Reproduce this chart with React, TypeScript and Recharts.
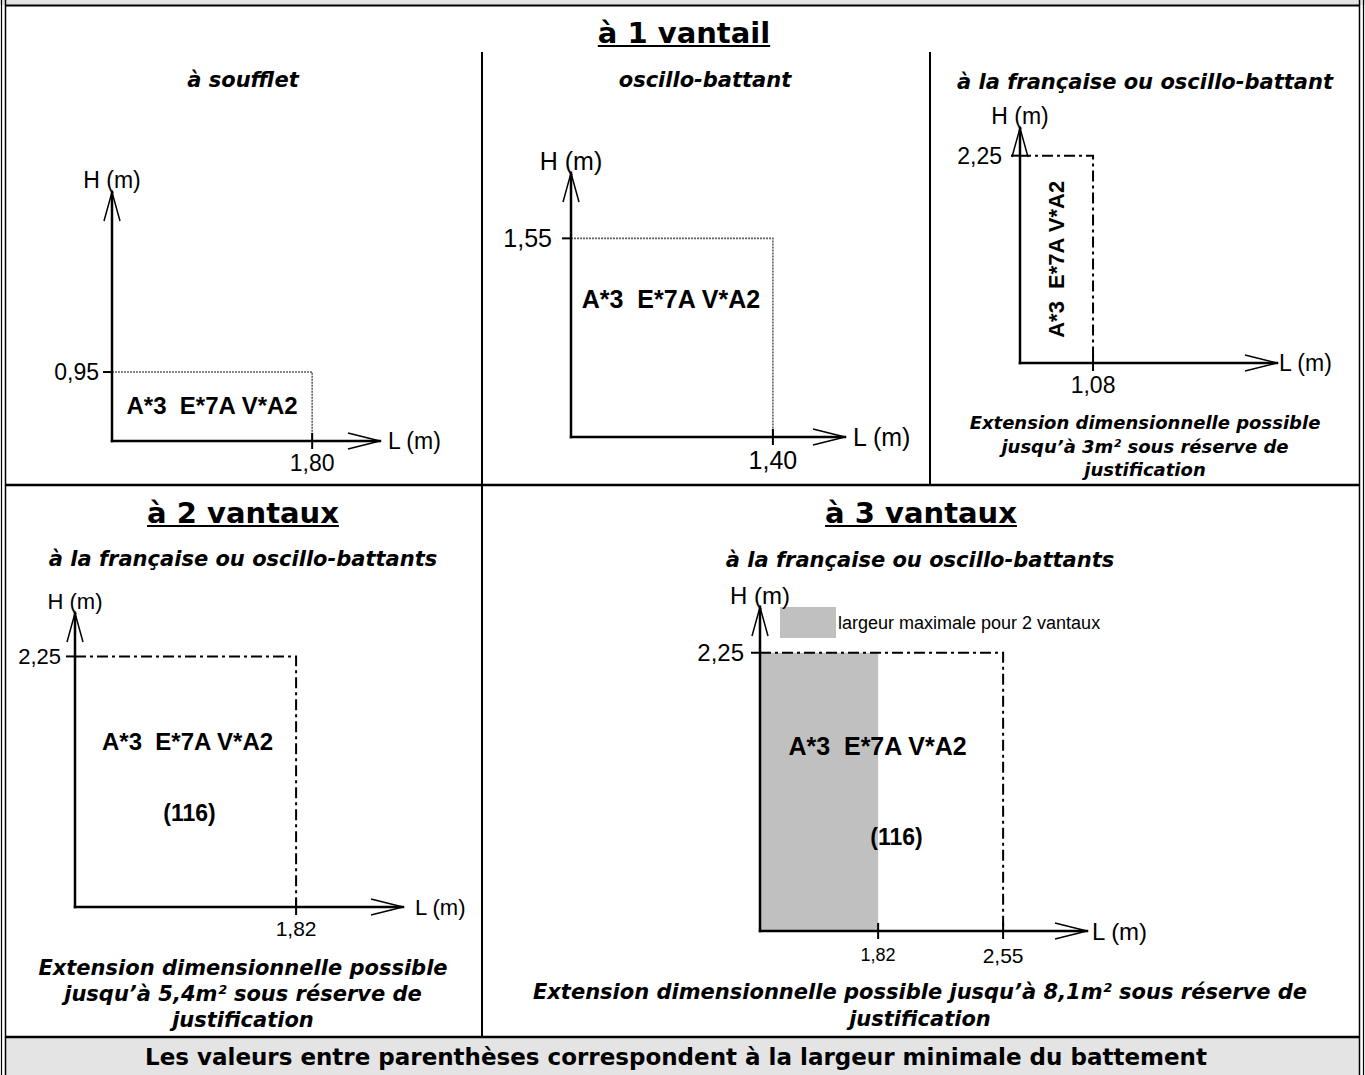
import React from "react";
import { ComposedChart, XAxis, YAxis, ReferenceArea, ReferenceLine } from "recharts";

// One entry per panel: top row (1 vantail x3), then 2 vantaux, 3 vantaux
const panelTypes = [
  "à soufflet",
  "oscillo-battant",
  "à la française ou oscillo-battant",
  "à la française ou oscillo-battants",
  "à la française ou oscillo-battants",
];
const maxWidthL = [1.8, 1.4, 1.08, 1.82, 2.55];
const maxHeightH = [0.95, 1.55, 2.25, 2.25, 2.25];
// axis extents as drawn (arrow tips); the 3-leaf L axis does not start at 0
const axisStartL = [0, 0, 0, 0, 1.13];
const axisEndL = [2.41, 1.9, 3.8, 2.7, 3.04];
const axisEndH = [3.43, 2.06, 2.55, 2.64, 2.62];
const twoLeafWidthL = [null, null, null, null, 1.82];
const classification = "A*3  E*7A V*A2";
const battement = [null, null, null, "(116)", "(116)"];
const extensionArea = [null, null, "3m²", "5,4m²", "8,1m²"];

const ARIAL = "'Liberation Sans', Arial, sans-serif";
const VERDANA = "'DejaVu Sans', Verdana, sans-serif";
const frFmt = (v: number) => v.toFixed(2).replace(".", ",");

// pixel placement / styling of each panel
const geo = [
  { ox: 112, oy: 441, w: 268, h: 249, dashDot: false, axisFont: 23, tickFont: 23, lGap: 8, xTickDy: 22, yTickDx: 13, labelFont: 24, labelDx: 0, labelDy: -1, batDx: 0, batDy: 0, vertical: false, shadeTickFont: 18 },
  { ox: 571, oy: 437, w: 274, h: 264, dashDot: false, axisFont: 25, tickFont: 25, lGap: 8, xTickDy: 23, yTickDx: 19, labelFont: 25, labelDx: -1, labelDy: -39, batDx: 0, batDy: 0, vertical: false, shadeTickFont: 18 },
  { ox: 1020, oy: 363, w: 257, h: 235, dashDot: true, axisFont: 23, tickFont: 23, lGap: 2, xTickDy: 22, yTickDx: 18, labelFont: 22, labelDx: 0, labelDy: 0, batDx: 0, batDy: 0, vertical: true, shadeTickFont: 18 },
  { ox: 75, oy: 907, w: 328, h: 294, dashDot: true, axisFont: 22, tickFont: 21, lGap: 12, xTickDy: 21, yTickDx: 14, labelFont: 24, labelDx: 2, labelDy: -40, batDx: 4, batDy: 31, vertical: false, shadeTickFont: 18 },
  { ox: 760, oy: 931, w: 327, h: 324, dashDot: true, axisFont: 24, tickFont: 21, lGap: 5, xTickDy: 24, yTickDx: 16, labelFont: 25, labelDx: -4, labelDy: -46, batDx: 15, batDy: 45, vertical: false, shadeTickFont: 18 },
];

function Panel({ i }: { i: number }) {
  const g = geo[i];
  const m = { top: 40, right: 90, bottom: 40, left: 70 };
  const x0 = axisStartL[i];
  const shade = twoLeafWidthL[i];
  const envStroke = g.dashDot
    ? { stroke: "#000", strokeWidth: 2, strokeDasharray: "11 4 3 4" }
    : { stroke: "#606060", strokeWidth: 1.6, strokeDasharray: "2 1" };

  const envelope = (p: any) => {
    const { x, y, width, height } = p;
    const cx = x + width / 2 + g.labelDx;
    const cy = y + height / 2 + g.labelDy;
    return (
      <g>
        <path d={`M${x},${y}H${x + width}V${y + height}`} fill="none" {...envStroke} />
        <text
          x={cx}
          y={cy}
          textAnchor="middle"
          dominantBaseline="central"
          fontFamily={ARIAL}
          fontWeight="bold"
          fontSize={g.labelFont}
          xmlSpace="preserve"
          style={{ whiteSpace: "pre" }}
          transform={g.vertical ? `rotate(-90 ${cx} ${cy})` : undefined}
        >
          {classification}
        </text>
        {battement[i] && (
          <text
            x={x + width / 2 + g.batDx}
            y={y + height / 2 + g.batDy}
            textAnchor="middle"
            dominantBaseline="central"
            fontFamily={ARIAL}
            fontWeight="bold"
            fontSize={23}
          >
            {battement[i]}
          </text>
        )}
      </g>
    );
  };

  const xTick = (value: number, fontSize: number) => (p: any) => {
    const x = p.x1;
    const yb = Math.max(p.y1, p.y2);
    return (
      <g>
        <line x1={x} y1={yb - 8} x2={x} y2={yb + 8} stroke="#000" strokeWidth={2} />
        <text x={x} y={yb + g.xTickDy} textAnchor="middle" dominantBaseline="central" fontFamily={ARIAL} fontSize={fontSize}>
          {frFmt(value)}
        </text>
      </g>
    );
  };

  const yTick = (value: number) => (p: any) => {
    const xl = Math.min(p.x1, p.x2);
    const y = p.y1;
    return (
      <g>
        <line x1={xl - 9} y1={y} x2={xl} y2={y} stroke="#000" strokeWidth={2} />
        <text x={xl - g.yTickDx} y={y} textAnchor="end" dominantBaseline="central" fontFamily={ARIAL} fontSize={g.axisFont}>
          {frFmt(value)}
        </text>
      </g>
    );
  };

  const xAxisArrow = (p: any) => {
    const y = p.y1;
    const xa = Math.min(p.x1, p.x2);
    const xb = Math.max(p.x1, p.x2);
    return (
      <g>
        <line x1={xa} y1={y} x2={xb} y2={y} stroke="#000" strokeWidth={2.5} strokeLinecap="square" />
        <path d={`M${xb - 32},${y - 8}L${xb},${y}L${xb - 32},${y + 8}`} fill="none" stroke="#000" strokeWidth={1.5} />
        <text x={xb + g.lGap} y={y} dominantBaseline="central" fontFamily={ARIAL} fontSize={g.axisFont}>
          L (m)
        </text>
      </g>
    );
  };

  const yAxisArrow = (p: any) => {
    const x = p.x1;
    const yt = Math.min(p.y1, p.y2);
    const yb = Math.max(p.y1, p.y2);
    return (
      <g>
        <line x1={x} y1={yb} x2={x} y2={yt} stroke="#000" strokeWidth={2.5} strokeLinecap="square" />
        <path d={`M${x - 8},${yt + 29}L${x},${yt}L${x + 8},${yt + 29}`} fill="none" stroke="#000" strokeWidth={1.5} />
        <text x={x} y={yt - 12} textAnchor="middle" dominantBaseline="central" fontFamily={ARIAL} fontSize={g.axisFont}>
          H (m)
        </text>
      </g>
    );
  };

  return (
    <div style={{ position: "absolute", left: g.ox - m.left, top: g.oy - g.h - m.top }}>
      <ComposedChart
        width={g.w + m.left + m.right}
        height={g.h + m.top + m.bottom}
        margin={m}
        data={[{ L: maxWidthL[i], H: maxHeightH[i] }]}
      >
        <XAxis type="number" dataKey="L" domain={[x0, axisEndL[i]]} allowDataOverflow hide />
        <YAxis type="number" dataKey="H" domain={[0, axisEndH[i]]} allowDataOverflow hide />
        {shade != null && (
          <ReferenceArea x1={x0} x2={shade} y1={0} y2={maxHeightH[i]} fill="#c0c0c0" fillOpacity={1} stroke="none" ifOverflow="visible" />
        )}
        <ReferenceArea x1={x0} x2={maxWidthL[i]} y1={0} y2={maxHeightH[i]} shape={envelope} ifOverflow="visible" />
        <ReferenceLine y={maxHeightH[i]} shape={yTick(maxHeightH[i])} ifOverflow="visible" />
        {shade != null && <ReferenceLine x={shade} shape={xTick(shade, g.shadeTickFont)} ifOverflow="visible" />}
        <ReferenceLine x={maxWidthL[i]} shape={xTick(maxWidthL[i], g.tickFont)} ifOverflow="visible" />
        <ReferenceLine y={0} shape={xAxisArrow} ifOverflow="visible" />
        <ReferenceLine x={x0} shape={yAxisArrow} ifOverflow="visible" />
      </ComposedChart>
    </div>
  );
}

function Caption({ cx, top, size, lh, italic = false, underline = false, width = 760, children }: any) {
  return (
    <div
      style={{
        position: "absolute",
        left: cx - width / 2,
        top,
        width,
        textAlign: "center",
        fontFamily: VERDANA,
        fontWeight: "bold",
        fontStyle: italic ? "italic" : "normal",
        textDecoration: underline ? "underline" : "none",
        fontSize: size,
        lineHeight: `${lh}px`,
        color: "#000",
        whiteSpace: "nowrap",
      }}
    >
      {children}
    </div>
  );
}

function Frame() {
  const k = "#000";
  return (
    <svg width={1365} height={1075} style={{ position: "absolute", left: 0, top: 0 }}>
      <rect x={0} y={0} width={1365} height={5} fill="#e4e4e4" />
      <rect x={6} y={1038} width={1353} height={37} fill="#e4e4e4" />
      <line x1={1.5} y1={0} x2={1.5} y2={1075} stroke={k} strokeWidth={1.2} />
      <line x1={5.5} y1={0} x2={5.5} y2={1075} stroke={k} strokeWidth={1.5} />
      <line x1={1359.5} y1={0} x2={1359.5} y2={1075} stroke={k} strokeWidth={1.5} />
      <line x1={1363.5} y1={0} x2={1363.5} y2={1075} stroke={k} strokeWidth={1.2} />
      <line x1={5} y1={5.5} x2={1360} y2={5.5} stroke={k} strokeWidth={2} />
      <line x1={5} y1={485} x2={1360} y2={485} stroke={k} strokeWidth={2.5} />
      <line x1={5} y1={1037} x2={1360} y2={1037} stroke={k} strokeWidth={2.5} />
      <line x1={482} y1={52} x2={482} y2={1037} stroke={k} strokeWidth={2} />
      <line x1={930} y1={52} x2={930} y2={485} stroke={k} strokeWidth={2} />
    </svg>
  );
}

const extensionLines = (area: string, oneLine: boolean) =>
  oneLine ? (
    <>
      {`Extension dimensionnelle possible jusqu’à ${area} sous réserve de`}
      <br />
      justification
    </>
  ) : (
    <>
      Extension dimensionnelle possible
      <br />
      {`jusqu’à ${area} sous réserve de`}
      <br />
      justification
    </>
  );

export default function App() {
  return (
    <div style={{ position: "absolute", left: 0, top: 0, width: 1365, height: 1075, background: "#fff", overflow: "hidden" }}>
      <Frame />

      <Caption cx={684} top={16} size={29} lh={34} underline>à 1 vantail</Caption>
      <Caption cx={243} top={67} size={21} lh={26} italic>{panelTypes[0]}</Caption>
      <Caption cx={705} top={67} size={21} lh={26} italic>{panelTypes[1]}</Caption>
      <Caption cx={1145} top={69} size={21} lh={26} italic>{panelTypes[2]}</Caption>
      <Caption cx={1145} top={411} size={18} lh={23.5} italic>{extensionLines(extensionArea[2] as string, false)}</Caption>

      <Caption cx={243} top={496} size={29} lh={34} underline>à 2 vantaux</Caption>
      <Caption cx={243} top={546} size={21} lh={26} italic>{panelTypes[3]}</Caption>
      <Caption cx={243} top={955} size={21} lh={26} italic>{extensionLines(extensionArea[3] as string, false)}</Caption>

      <Caption cx={921} top={496} size={29} lh={34} underline>à 3 vantaux</Caption>
      <Caption cx={920} top={547} size={21} lh={26} italic>{panelTypes[4]}</Caption>
      <Caption cx={920} top={979} size={21} lh={27} italic width={860}>{extensionLines(extensionArea[4] as string, true)}</Caption>

      <Caption cx={676} top={1043} size={23} lh={28} width={1300}>
        Les valeurs entre parenthèses correspondent à la largeur minimale du battement
      </Caption>

      {/* legend of the shaded band */}
      <div style={{ position: "absolute", left: 780, top: 607, width: 56, height: 31, background: "#c0c0c0" }} />
      <div style={{ position: "absolute", left: 838, top: 612, fontFamily: ARIAL, fontSize: 18, lineHeight: "22px", whiteSpace: "nowrap" }}>
        largeur maximale pour 2 vantaux
      </div>

      {geo.map((_, i) => (
        <Panel key={i} i={i} />
      ))}
    </div>
  );
}
